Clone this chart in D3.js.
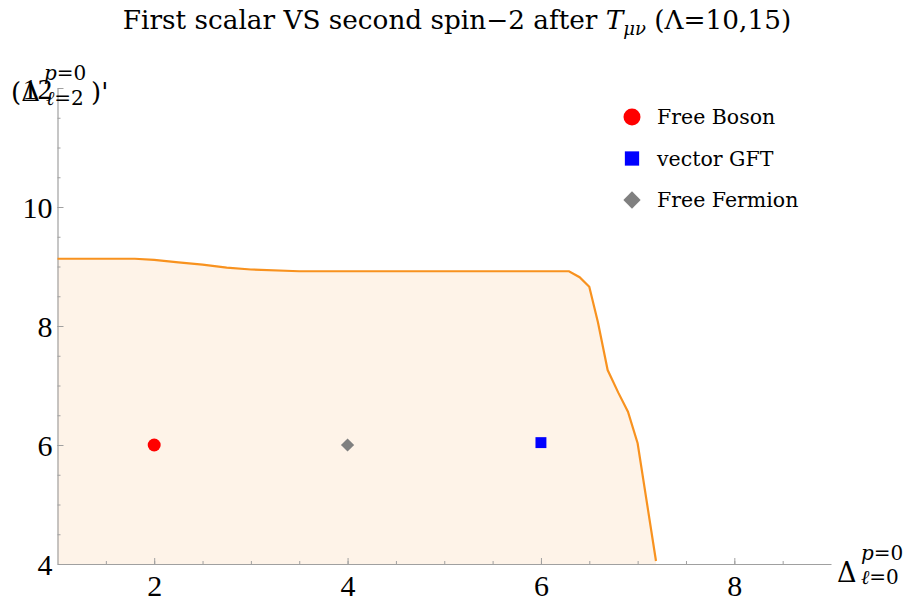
<!DOCTYPE html>
<head>
  <meta charset="utf-8">
  <style>
    body { margin: 0; background: #fff; }
    text { font-family: "DejaVu Serif", serif; fill: #000; }
    .axis path, .axis line { stroke: #a0a0a0; }
    .axis path { stroke-width: 1.2; }
    .area { fill: #fef3e8; stroke: none; }
    .bound { fill: none; stroke: #f8921f; stroke-width: 2.2; }
  </style>
  <script src="https://d3js.org/d3.v7.min.js"></script>
</head>
<body>
<script>
  // boundary of the allowed region
  var boundX = [1, 1.5, 1.8, 2.0, 2.25, 2.5, 2.75, 3.0, 3.5, 4, 5, 6, 6.29, 6.4, 6.5, 6.59, 6.69, 6.8, 6.9, 7.0, 7.19];
  var boundY = [9.13, 9.13, 9.13, 9.11, 9.07, 9.03, 8.98, 8.95, 8.92, 8.92, 8.92, 8.92, 8.92, 8.82, 8.66, 8.06, 7.26, 6.88, 6.56, 6.03, 4.05];

  // theory points
  var pointNames = ["Free Boson", "vector GFT", "Free Fermion"];
  var pointX = [2, 6, 4];
  var pointY = [6, 6.04, 6];
  var pointColors = ["#ff0000", "#0000ff", "#808080"];

  var xTicks = [2, 4, 6, 8];
  var yTicks = [4, 6, 8, 10, 12];

  var width = 904, height = 606;
  var svg = d3.select("body").append("svg")
      .attr("width", width)
      .attr("height", height);

  var x = d3.scaleLinear().domain([1, 9]).range([57.5, 831]);
  var y = d3.scaleLinear().domain([4, 12]).range([564, 88]);

  var bound = boundX.map(function(d, i) { return [d, boundY[i]]; });

  // marker shapes: circle, square, square turned 45 degrees
  function marker(sel, i, s) {
    if (i === 0) {
      return sel.append("circle").attr("r", s * 0.5);
    }
    var k = i === 2 ? 0.36 : 0.42;
    var r = sel.append("rect")
      .attr("x", -s * k).attr("y", -s * k)
      .attr("width", s * 2 * k).attr("height", s * 2 * k);
    if (i === 2) r.attr("transform", "rotate(45)");
    return r;
  }

  // filled region
  svg.append("path")
    .attr("class", "area")
    .attr("d", d3.area()
      .x(function(d) { return x(d[0]); })
      .y0(y(4))
      .y1(function(d) { return y(d[1]); })(bound));

  // minor ticks
  svg.append("g")
    .attr("class", "axis")
    .attr("transform", "translate(0," + y(4) + ")")
    .call(d3.axisBottom(x).tickValues(d3.range(1.5, 9, 0.5)).tickSize(-3).tickFormat(""))
    .select(".domain").remove();
  svg.append("g")
    .attr("class", "axis")
    .attr("transform", "translate(" + x(1) + ",0)")
    .call(d3.axisLeft(y).tickValues(d3.range(4.5, 12, 0.5)).tickSize(-3).tickFormat(""))
    .select(".domain").remove();

  // major axes
  var xAxis = svg.append("g")
    .attr("class", "axis")
    .attr("transform", "translate(0," + y(4) + ")")
    .call(d3.axisBottom(x).tickValues(xTicks).tickSizeInner(-6).tickSizeOuter(0).tickPadding(11))
    .attr("font-family", null).attr("font-size", null);
  xAxis.selectAll("text")
    .style("font-family", "'Liberation Serif', serif")
    .style("font-size", "30px")
    .attr("fill", "#000");

  var yAxis = svg.append("g")
    .attr("class", "axis")
    .attr("transform", "translate(" + x(1) + ",0)")
    .call(d3.axisLeft(y).tickValues(yTicks).tickSizeInner(-6).tickSizeOuter(0).tickPadding(5))
    .attr("font-family", null).attr("font-size", null);
  yAxis.selectAll("text")
    .style("font-family", "'Liberation Serif', serif")
    .style("font-size", "30px")
    .attr("dy", "0.34em")
    .attr("fill", "#000");

  // boundary line
  svg.append("path")
    .attr("class", "bound")
    .attr("d", d3.line()
      .x(function(d) { return x(d[0]); })
      .y(function(d) { return y(d[1]); })(bound));

  // points
  pointNames.forEach(function(d, i) {
    var g = svg.append("g")
      .attr("transform", "translate(" + x(pointX[i]) + "," + y(pointY[i]) + ")")
      .attr("fill", pointColors[i]);
    marker(g, i, 13);
  });

  // legend
  var legend = svg.selectAll(".leg")
    .data(pointNames)
    .enter().append("g")
    .attr("class", "leg")
    .attr("transform", function(d, i) { return "translate(632," + (117 + i * 41.5) + ")"; })
    .attr("fill", function(d, i) { return pointColors[i]; });
  legend.each(function(d, i) { marker(d3.select(this), i, 17); });
  legend.append("text")
    .attr("x", 25)
    .attr("dy", "0.36em")
    .attr("font-size", 20.5)
    .attr("fill", "#000")
    .text(function(d) { return d; });

  // title
  var title = svg.append("text")
    .attr("x", 457)
    .attr("y", 29)
    .attr("text-anchor", "middle")
    .attr("font-size", 26.3);
  title.append("tspan").text("First scalar VS second spin\u22122 after ");
  title.append("tspan").attr("font-style", "italic").text("T");
  title.append("tspan").attr("font-style", "italic").attr("font-size", 18).attr("dy", 6).text("\u03bc\u03bd");
  title.append("tspan").attr("dy", -6).text(" (\u039b=10,15)");

  // y label
  var yl = svg.append("text").attr("x", 11).attr("y", 101).attr("font-size", 26);
  yl.append("tspan").text("(\u0394");
  yl.append("tspan").attr("font-size", 20).attr("font-style", "italic").attr("x", 44).attr("y", 80).text("p");
  yl.append("tspan").attr("font-size", 20).text("=0");
  yl.append("tspan").attr("font-size", 20).attr("font-style", "italic").attr("x", 46).attr("y", 105).text("\u2113");
  yl.append("tspan").attr("font-size", 20).text("=2");
  yl.append("tspan").attr("x", 91).attr("y", 101).text(")'");

  // x label
  var xl = svg.append("text").attr("x", 837).attr("y", 582).attr("font-size", 27);
  xl.append("tspan").text("\u0394");
  xl.append("tspan").attr("font-size", 20).attr("font-style", "italic").attr("x", 861).attr("y", 560).text("p");
  xl.append("tspan").attr("font-size", 20).text("=0");
  xl.append("tspan").attr("font-size", 20).attr("font-style", "italic").attr("x", 861).attr("y", 584).text("\u2113");
  xl.append("tspan").attr("font-size", 20).text("=0");
</script>
</body>
</html>
